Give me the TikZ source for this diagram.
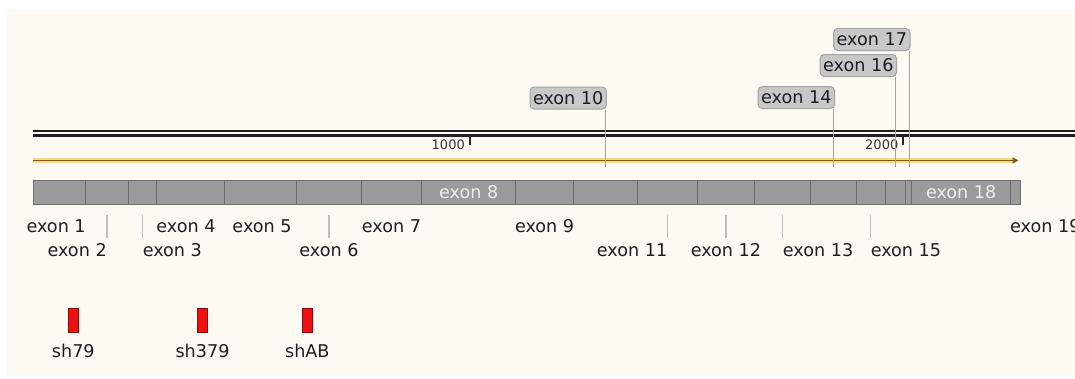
\documentclass[tikz,border=0pt]{standalone}
\usepackage{fontspec}
\setmainfont{DejaVu Sans}
\usetikzlibrary{arrows.meta}
\definecolor{cream}{HTML}{FDFAF3}
\definecolor{exfill}{HTML}{9B9B9B}
\definecolor{exdraw}{HTML}{6E6E6E}
\definecolor{calfill}{HTML}{C8C8C8}
\definecolor{caldraw}{HTML}{A2A2A2}
\definecolor{txt}{HTML}{1E1E1E}
\definecolor{halo}{HTML}{F4D98E}
\definecolor{core}{HTML}{7A5A14}
\definecolor{shred}{HTML}{EE1010}
\definecolor{shdark}{HTML}{8A0A0A}
\definecolor{ticklight}{HTML}{BDBDBD}
\definecolor{inlabcol}{HTML}{EDEDED}
\begin{document}
\begin{tikzpicture}[x=1pt,y=-1pt,
  every node/.style={font=\fontsize{17.6}{20}\selectfont, text=txt},
  exonbox/.style={draw=exdraw, fill=exfill, line width=1pt, inner sep=0pt, minimum height=24pt},
  lab/.style={inner sep=0pt},
  inlab/.style={inner sep=0pt, text=inlabcol, text height=12.8pt, text depth=0pt},
  callout/.style={draw=caldraw, fill=calfill, line width=1pt, rounded corners=4pt, inner xsep=3pt, inner ysep=4.6pt, text height=12.8pt, text depth=0pt, anchor=south east},
  calline/.style={draw=caldraw, line width=1pt},
  exontick/.style={draw=ticklight, line width=1.2pt},
  shmark/.style={draw=shdark, fill=shred, line width=0.8pt, inner sep=0pt, minimum width=10pt, minimum height=24pt},
  rulerline/.style={draw=black!88, line width=2.2pt},
  rulertick/.style={line width=1.5pt, draw=black!85},
  rulerlab/.style={inner sep=0pt, font=\fontsize{13}{13}\selectfont, text=black!80, anchor=base east}
]
\useasboundingbox (0,0) rectangle (1075,378);
\fill[white] (0,0) rectangle (1075,378);
\fill[cream] (7,10) rectangle (1075,376);

% ruler
\draw[rulerline] (33,131.2) -- (1075,131.2);
\draw[rulerline] (33,135.5) -- (1075,135.5);
\coordinate (t1) at (470,136);
\coordinate (t2) at (903,136);
\draw[rulertick] (t1) -- ++(0,9);
\draw[rulertick] (t2) -- ++(0,9);
\node[rulerlab] (r1) at (465,149) {1000};
\node[rulerlab] (r2) at (898.5,149) {2000};

% direction arrow
\draw[halo, line width=5pt] (33,160.5) -- (1014,160.5);
\draw[core, line width=1.8pt, -{Triangle[length=6pt,width=6pt]}] (33,160.5) -- (1018.5,160.5);

% exon bar
\foreach \a/\b [count=\i] in {33/85.4, 85.4/128.4, 128.4/156.7, 156.7/224.5, 224.5/296.8, 296.8/361.2, 361.2/421.8, 421.8/515.5, 515.5/573.6, 573.6/637.6, 637.6/697.2, 697.2/754.7, 754.7/810.8, 810.8/856, 856/885.2, 885.2/905.8, 905.8/911.8, 911.8/1010.5, 1010.5/1020.6}
  \node[exonbox, minimum width={(\b-\a)*1pt}] (e\i) at ({(\a+\b)/2},192.5) {};
\node[inlab] (l8) at (e8.center) {exon 8};
\node[inlab] (l18) at (e18.center) {exon 18};

% label rows
\coordinate (row1) at (0,232);
\coordinate (row2) at (0,256);
\coordinate (row3) at (0,357.8);
\node[lab, anchor=base east] (l1) at (e1.east |- row1) {exon 1};
\node[lab, anchor=base west] (l4) at (e4.west |- row1) {exon 4};
\node[lab, anchor=base] (l5) at ([xshift=1.4pt]e5.center |- row1) {exon 5};
\node[lab, anchor=base] (l7) at (e7.center |- row1) {exon 7};
\node[lab, anchor=base] (l9) at (e9.center |- row1) {exon 9};
\node[lab, anchor=base west] (l19) at (e19.west |- row1) {exon 19};

\foreach \k in {2,3,6,11,12,13,15}
  \draw[exontick] ([yshift=-10pt]e\k.south) -- ++(0,22.5);
\node[lab, anchor=base east] (l2) at (e2.center |- row2) {exon 2};
\node[lab, anchor=base west] (l3) at (e3.center |- row2) {exon 3};
\node[lab, anchor=base] (l6) at (e6.center |- row2) {exon 6};
\node[lab, anchor=base east] (l11) at (e11.center |- row2) {exon 11};
\node[lab, anchor=base] (l12) at (e12.center |- row2) {exon 12};
\node[lab, anchor=base west] (l13) at (e13.center |- row2) {exon 13};
\node[lab, anchor=base west] (l15) at (e15.center |- row2) {exon 15};

% callouts
\coordinate (p10) at (605,167);
\coordinate (p14) at (833.3,167);
\coordinate (p16) at (895.5,167);
\coordinate (p17) at (909,167);
\node[callout] (c10) at (606.8,109.5) {exon 10};
\node[callout] (c14) at (835,109) {exon 14};
\node[callout] (c16) at (897,77) {exon 16};
\node[callout] (c17) at (910.5,51) {exon 17};
\draw[calline] (p10 |- c10.south) -- (p10);
\draw[calline] (p14 |- c14.south) -- (p14);
\draw[calline] (p16 |- c16.south) -- (p16);
\draw[calline] (p17 |- c17.south) -- (p17);

% shRNA markers
\node[shmark] (s1) at (73.3,320.3) {};
\node[shmark] (s2) at (202.5,320.3) {};
\node[shmark] (s3) at (307.3,320.3) {};
\node[lab, anchor=base] (sl1) at (s1.center |- row3) {sh79};
\node[lab, anchor=base] (sl2) at (s2.center |- row3) {sh379};
\node[lab, anchor=base] (sl3) at (s3.center |- row3) {shAB};
\end{tikzpicture}
\end{document}
